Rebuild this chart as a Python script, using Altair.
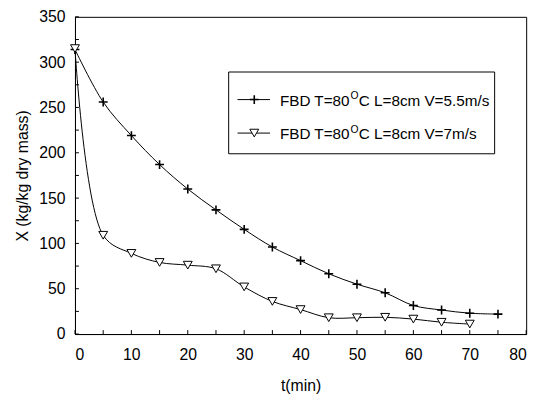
import altair as alt
import pandas as pd

t1 = [0, 5, 10, 15, 20, 25, 30, 35, 40, 45, 50, 55, 60, 65, 70, 75]
x1 = [314, 256, 219, 187, 160, 137, 115.5, 96, 81, 66.5, 55, 45.5, 31.5, 26.5, 23, 22]
t2 = [0, 5, 10, 15, 20, 25, 30, 35, 40, 45, 50, 55, 60, 65, 70]
x2 = [315, 109, 89, 79, 76, 72, 52, 36, 27, 18, 18, 18.5, 16.5, 13, 11]
names = ["V=5.5m/s", "V=7m/s"]
x_ticks = list(range(0, 85, 5))
x_labels = list(range(0, 90, 10))
y_ticks = list(range(0, 375, 25))
y_labels = list(range(0, 400, 50))

W, H = 458, 322
FONT = "Liberation Sans"
PLUS = "M-1,0L1,0M0,-1L0,1"

df = pd.concat([
    pd.DataFrame({"t": t1, "X": x1, "s": names[0]}),
    pd.DataFrame({"t": t2, "X": x2, "s": names[1]}),
])

xs = alt.Scale(domain=[0, 80], nice=False)
ys = alt.Scale(domain=[0, 350], nice=False)

axis_common = dict(ticks=False, grid=False, domainColor="black", labelColor="black",
                   titleColor="black", labelFont=FONT, titleFont=FONT, labelFontSize=16,
                   titleFontSize=16, titleFontWeight="normal", domainWidth=1)

xenc = alt.X("t:Q", scale=xs, title="t(min)",
             axis=alt.Axis(values=x_labels, labelPadding=13, titlePadding=15, **axis_common))
yenc = alt.Y("X:Q", scale=ys, title="X (kg/kg dry mass)",
             axis=alt.Axis(values=y_labels, labelPadding=10, titlePadding=8, **axis_common))

shape_scale = alt.Scale(domain=names, range=[PLUS, "triangle-down"])

lines = alt.Chart(df).mark_line(interpolate="catmull-rom", color="black", strokeWidth=1).encode(
    x=xenc, y=yenc, detail="s:N")

pts = alt.Chart(df).mark_point(filled=True, fill="white", stroke="black", size=81, opacity=1).encode(
    x="t:Q", y="X:Q",
    shape=alt.Shape("s:N", scale=shape_scale, legend=None),
    strokeWidth=alt.StrokeWidth("s:N", scale=alt.Scale(domain=names, range=[1.6, 1]), legend=None))

xt = alt.Chart(pd.DataFrame({"t": x_ticks})).mark_rule(color="black", strokeWidth=1).encode(
    x="t:Q", y=alt.value(H), y2=alt.value(H - 4))
yt = alt.Chart(pd.DataFrame({"X": y_ticks})).mark_rule(color="black", strokeWidth=1).encode(
    y="X:Q", x=alt.value(0), x2=alt.value(4))

# legend
lx0, ly0 = 76, 14
LFS = 15.5
box = alt.Chart(pd.DataFrame({"a": [0]})).mark_rect(fill="white", stroke="black", strokeWidth=1).encode(
    x=alt.value(232 - lx0), x2=alt.value(502 - lx0), y=alt.value(70 - ly0), y2=alt.value(153 - ly0))

leg_y = [98 - ly0, 132 - ly0]
leg_txt1 = ["FBD T=80", "FBD T=80"]
leg_txt2 = ["C L=8cm V=5.5m/s", "C L=8cm V=7m/s"]
legend_layers = [box]
w1 = 4.585 * LFS
for i in range(2):
    legend_layers.append(alt.Chart(pd.DataFrame({"a": [0]})).mark_rule(color="black", strokeWidth=1).encode(
        x=alt.value(241 - lx0), x2=alt.value(274 - lx0), y=alt.value(leg_y[i])))
    legend_layers.append(alt.Chart(pd.DataFrame({"a": [0]})).mark_point(
        filled=True, fill="white", stroke="black", size=81, opacity=1,
        shape=[PLUS, "triangle-down"][i], strokeWidth=[1.6, 1][i]).encode(
        x=alt.value(258 - lx0), y=alt.value(leg_y[i])))
    legend_layers.append(alt.Chart(pd.DataFrame({"a": [0]})).mark_text(
        text=leg_txt1[i], align="left", baseline="middle", font=FONT, fontSize=LFS, color="black").encode(
        x=alt.value(284 - lx0), y=alt.value(leg_y[i] + 1.5)))
    legend_layers.append(alt.Chart(pd.DataFrame({"a": [0]})).mark_text(
        text="O", align="left", baseline="middle", font=FONT, fontSize=10.5, color="black").encode(
        x=alt.value(284 - lx0 + w1 + 0.5), y=alt.value(leg_y[i] - 3.5)))
    legend_layers.append(alt.Chart(pd.DataFrame({"a": [0]})).mark_text(
        text=leg_txt2[i], align="left", baseline="middle", font=FONT, fontSize=LFS, color="black").encode(
        x=alt.value(284 - lx0 + w1 + 9), y=alt.value(leg_y[i] + 1.5)))

chart = alt.layer(lines, xt, yt, pts, *legend_layers).properties(
    width=W, height=H,
    background="white",
    autosize=alt.AutoSizeParams(type="none"),
    padding={"left": 68, "top": 6, "right": 11, "bottom": 65},
).configure_view(stroke="black", strokeWidth=1)

chart.save("out.html", embed_options={"renderer": "svg", "actions": False})
